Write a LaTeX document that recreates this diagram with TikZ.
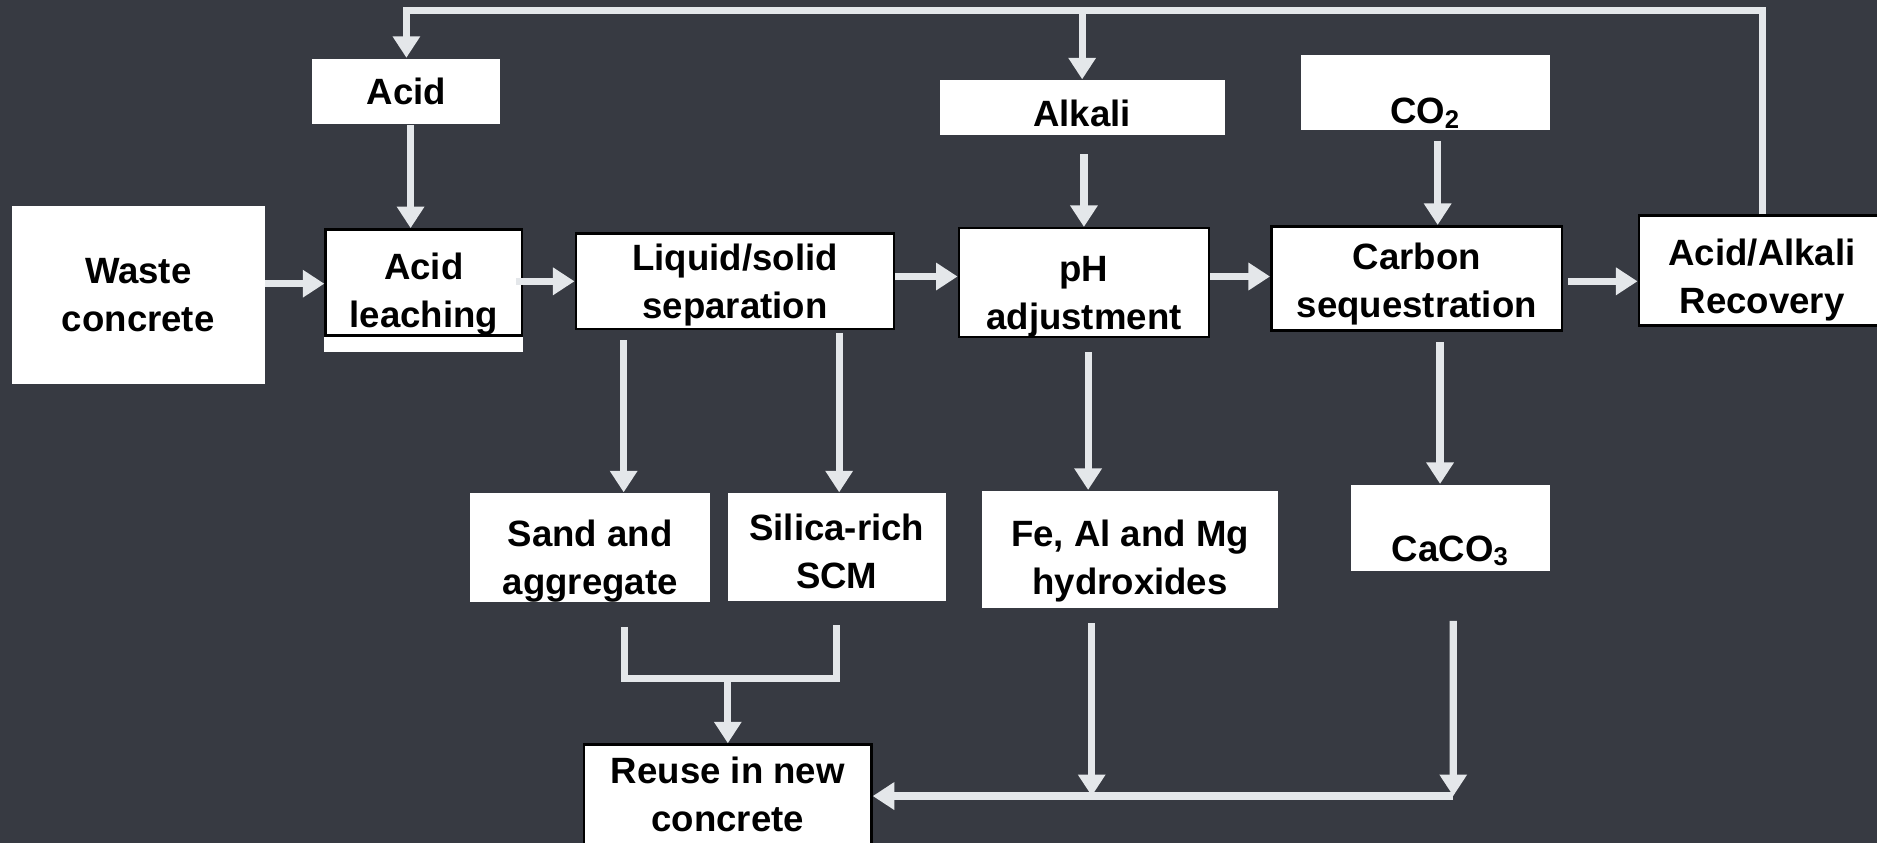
\documentclass[tikz,border=0pt]{standalone}
\usepackage{fontspec}
\setmainfont{Liberation Sans}
\usepackage{xcolor}
\usetikzlibrary{arrows.meta}
\definecolor{slate}{HTML}{373A42}
\definecolor{flow}{HTML}{E4E7EA}
\newcommand{\toppad}[1]{\rule{0pt}{#1}}

\begin{document}
\begin{tikzpicture}[x=.1mm,y=-.1mm,font=\fontsize{8.7}{11.4}\selectfont\bfseries,
     blk/.style={fill=white,text=black,align=center,inner sep=0pt},
     stage/.style={blk,draw=black,line width=.6pt},
     pipe/.style={draw=flow,line width=.6mm},
     feed/.style={pipe,-{Triangle[width=2.2mm,length=1.8mm]}}]
    \fill[slate] (0,0) rectangle (1568,704);
    \useasboundingbox (0,0) rectangle (1568,704);
    % main line
    \node[blk,minimum width=21.1mm,minimum height=14.9mm](waste) at (115.5,246.5){Waste\\concrete};
    \node[stage,minimum width=16.4mm,minimum height=8.8mm](leach) at (354,236){\toppad{12pt}Acid\\leaching};
    \fill[white] (leach.south west) rectangle ([yshift=-1.3mm]leach.south east);
    \node[stage,minimum width=26.6mm,minimum height=8mm](ls) at (614,235){\toppad{8pt}Liquid/solid\\separation};
    \node[stage,minimum width=20.9mm,minimum height=8.8mm](ph) at (905.5,236){\toppad{12.6pt}pH\\adjustment};
    \node[stage,minimum width=24.3mm,minimum height=8.7mm](cs) at (1183.5,232.5){\toppad{9.2pt}Carbon\\sequestration};
    \node[stage,minimum width=20.6mm,minimum height=9.2mm](rec) at (1472,226){\toppad{10.9pt}Acid/Alkali\\Recovery};
    % inputs
    \node[blk,minimum width=15.7mm,minimum height=5.5mm](acid) at (339.5,76.5){Acid};
    \node[blk,minimum width=23.8mm,minimum height=4.6mm,text height=9.1pt](alkali) at (904,90){Alkali};
    \node[blk,minimum width=20.8mm,minimum height=6.3mm,text height=15.6pt](co2) at (1191,77.5){CO\textsubscript{2}};
    % products
    \node[blk,minimum width=20mm,minimum height=9.1mm](sand) at (493,457.5){\toppad{12.6pt}Sand and\\aggregate};
    \node[blk,minimum width=18.2mm,minimum height=9mm](scm) at (699,457){\toppad{8.6pt}Silica-rich\\SCM};
    \node[blk,minimum width=24.8mm,minimum height=9.8mm](fe) at (944,459){\toppad{12pt}Fe, Al and Mg\\hydroxides};
    \node[blk,minimum width=16.6mm,minimum height=7.2mm,text height=17pt](caco3) at (1212,441){CaCO\textsubscript{3}};
    \node[stage,minimum width=24mm,minimum height=8.4mm](reuse) at (608,664){Reuse in new\\concrete};
    % arrows
    \foreach \a/\b/\y/\gap in {waste/leach/237/0,leach/ls/235/-.6,ls/ph/231/0,ph/cs/231/0,cs/rec/235/.4}{\draw[feed,shorten <=\gap mm](\a.east |- 0,\y)--(\b.west |- 0,\y);}
    \foreach \a/\b/\dx/\gap in {acid/leach/-1.1/0,alkali/ph/0/1.5,co2/cs/1.75/.8,ls/sand/2.8/.8,ls/scm/.2/.2,ph/fe/-3.5/1.2,cs/caco3/-.9/.9}{\draw[feed,shorten <=\gap mm]([xshift=\dx mm]\b.north |- \a.south)--([xshift=\dx mm]\b.north);}
    \coordinate (top) at (904,9);
    \draw[feed](rec.north) |- (top) -| (acid.north);
    \draw[feed](top)--(alkali.north);
    \coordinate (join) at (608,567);
    \draw[pipe,shorten <=2mm,shorten >=1.9mm]([xshift=2.9mm]sand.south) |- (join) -| (scm.south);
    \draw[feed](join)--(reuse.north);
    \coordinate (bus) at (1214,665);
    \draw[feed,shorten <=1.2mm]([xshift=-3.2mm]fe.south)--([xshift=-3.2mm]fe.south |- bus);
    \draw[feed,shorten <=4.1mm]([xshift=.2mm]caco3.south)--(bus);
    \draw[feed](bus)--(bus -| reuse.east);
  \end{tikzpicture}
\end{document}
